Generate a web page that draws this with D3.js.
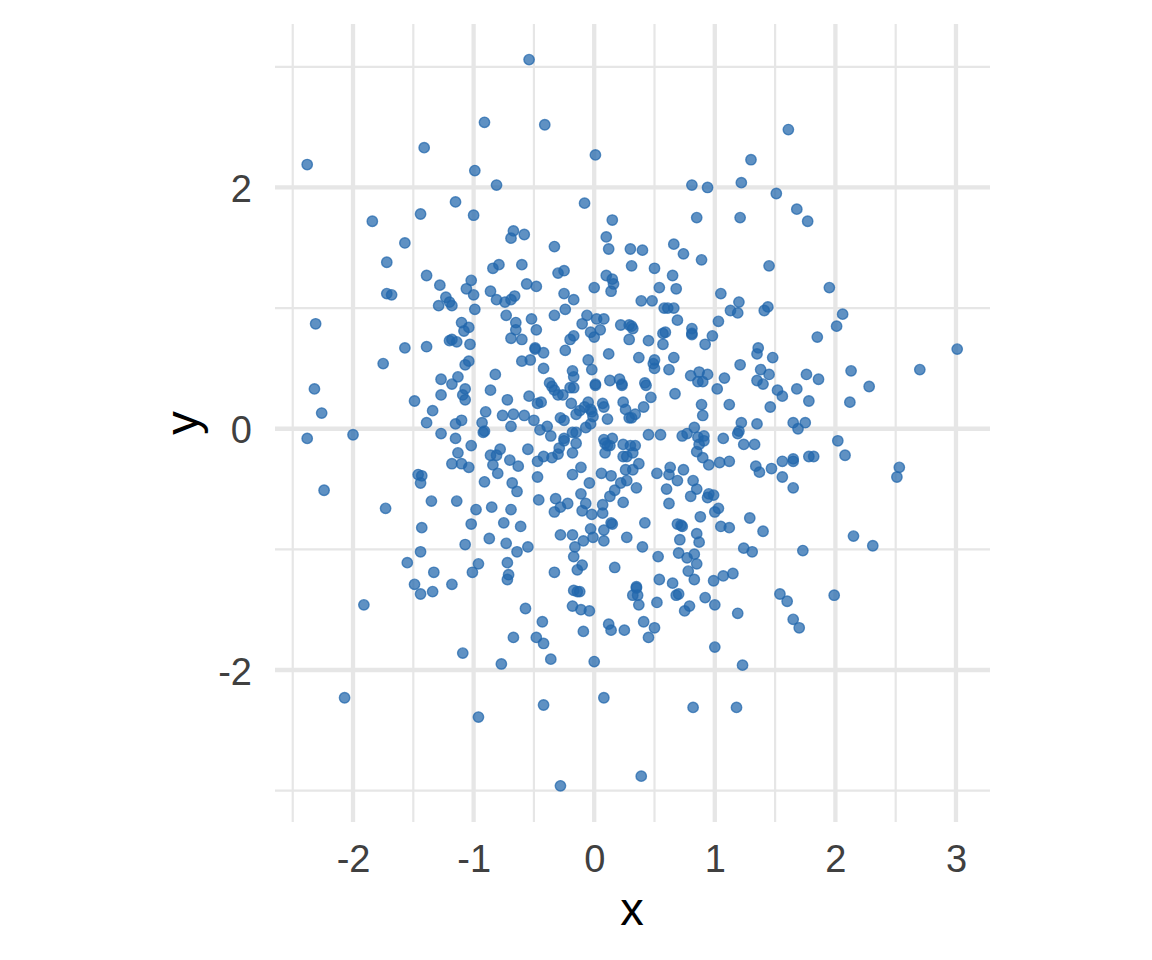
<!DOCTYPE html>
<html><head><meta charset="utf-8">
<script src="https://cdn.jsdelivr.net/npm/d3@7"></script>
<style>
html,body{margin:0;padding:0;background:#fff}
svg{display:block}
text{font-family:"Liberation Sans",Arial,sans-serif}
</style></head><body><svg id="c" width="1152" height="960"></svg>
<script>
const xMajorTicks=[-2,-1,0,1,2,3];
const xMinorTicks=[-2.5,-1.5,-0.5,0.5,1.5,2.5];
const yMajorTicks=[-2,0,2];
const yMinorTicks=[-3,-1,1,3];
const xTitle="x", yTitle="y";
const samples=[
[-0.54,3.06],[-0.91,2.54],[-0.41,2.52],[-1.41,2.33],[-2.38,2.19],[-0.99,2.14],[0.01,2.27],[-0.81,2.02],[-1.15,1.88],[-1.44,1.78],[-1.00,1.77],[-1.84,1.72],[-0.08,1.87],[0.15,1.73],[-1.57,1.54],[-0.67,1.64],[-0.58,1.61],[-0.69,1.58],[-0.33,1.51],[0.10,1.59],[0.12,1.49],[0.30,1.49],[-1.72,1.38],[-0.84,1.33],[-0.79,1.36],[-0.60,1.36],[-0.30,1.29],[-0.25,1.31],[0.10,1.27],[0.15,1.24],[0.16,1.20],[0.14,1.14],[0.31,1.35],[-1.39,1.27],[-1.28,1.19],[-1.02,1.23],[-1.06,1.16],[-1.00,1.11],[-0.86,1.14],[-0.56,1.20],[-0.48,1.18],[-0.25,1.12],[0.00,1.17],[-1.72,1.12],[-1.68,1.11],[-0.66,1.10],[-0.69,1.07],[-0.74,1.05],[-0.81,1.07],[-0.17,1.07],[-1.23,1.09],[-1.20,1.05],
[1.61,2.48],[1.30,2.23],[1.22,2.04],[0.81,2.02],[0.94,2.00],[1.51,1.95],[1.68,1.82],[1.77,1.72],[0.85,1.75],[1.21,1.75],[0.66,1.53],[0.74,1.45],[0.89,1.40],[0.40,1.48],[0.50,1.33],[1.45,1.35],[0.65,1.27],[0.54,1.17],[0.68,1.16],[1.05,1.12],[1.95,1.17],[1.20,1.05],[0.39,1.06],[0.48,1.06],
[-2.31,0.87],[-1.57,0.67],[-1.39,0.68],[-1.75,0.54],[-2.32,0.33],[-2.26,0.13],[-1.27,0.41],[-1.27,0.28],[-1.49,0.23],[-1.34,0.15],[-1.39,0.05],[-1.27,-0.04],[-2.38,-0.08],[-2.00,-0.05],[-1.29,1.02],[-1.20,0.73],[-1.18,0.37],
[-0.99,0.99],[-1.10,0.88],[-1.04,0.84],[-1.08,0.81],[-1.18,0.74],[-1.14,0.72],[-1.03,0.70],[-1.04,0.56],[-1.07,0.53],[-1.13,0.43],[-1.07,0.33],[-1.09,0.28],[-1.07,0.24],[-0.82,0.45],[-0.86,0.32],[-0.72,0.24],[-0.90,0.14],[-0.76,0.11],[-0.67,0.12],[-0.58,0.11],[-0.50,0.07],[-0.69,0.02],[-0.93,0.05],[-0.91,-0.02],[-0.92,-0.03],[-1.10,0.07],[-1.15,0.04],[-1.15,-0.08],[-0.73,0.94],[-0.65,0.88],[-0.65,0.82],[-0.69,0.75],[-0.60,0.74],[-0.52,0.91],[-0.48,0.82],[-0.49,0.67],[-0.49,0.66],[-0.42,0.63],[-0.60,0.56],[-0.53,0.57],[-0.42,0.50],[-0.54,0.27],[-0.44,0.22],[-0.47,0.21],[-0.37,0.38],[-0.35,0.35],[-0.33,0.32],[-0.30,0.28],[-0.26,0.28],[-0.19,0.21],[-0.20,0.34],[-0.17,0.34],[-0.18,0.48],[-0.17,0.43],[-0.33,0.94],[-0.24,0.99],[-0.06,0.94],[-0.10,0.87],[0.02,0.91],[0.08,0.91],[0.05,0.82],[-0.03,0.80],[0.00,0.76],[-0.17,0.77],[-0.20,0.74],[-0.24,0.65],[0.22,0.86],[0.29,0.86],[0.29,0.74],[0.12,0.62],[-0.05,0.57],[-0.02,0.49],[0.01,0.37],[0.01,0.36],[0.13,0.40],[0.21,0.41],[0.23,0.37],[0.23,0.36],[0.07,0.21],[0.08,0.18],[0.24,0.22],[0.26,0.16],[0.29,0.09],[0.11,0.08],[-0.05,0.22],[-0.12,0.15],[-0.15,0.12],[-0.08,0.18],[-0.03,0.16],[-0.02,0.14],[-0.01,0.10],[-0.03,0.04],[-0.07,0.01],[-0.28,0.09],[-0.25,0.07],[-0.39,0.02],[-0.45,-0.01],[-0.36,-0.06],[-0.25,-0.08],[-0.18,-0.03],[-0.15,-0.03],[0.08,-0.09],[0.15,-0.08],[-1.18,1.02],
[0.58,1.00],[0.61,1.00],[0.66,1.00],[0.69,0.90],[1.13,0.98],[1.19,0.96],[1.03,0.89],[1.44,1.01],[1.41,0.98],[0.31,0.85],[0.32,0.83],[0.45,0.73],[0.59,0.80],[0.57,0.79],[0.57,0.70],[0.81,0.83],[0.81,0.79],[0.81,0.78],[0.98,0.77],[0.92,0.70],[1.36,0.67],[1.35,0.62],[1.48,0.59],[0.37,0.59],[0.66,0.59],[0.50,0.57],[0.49,0.54],[0.50,0.50],[0.62,0.49],[1.21,0.53],[1.38,0.49],[1.45,0.45],[1.35,0.40],[1.40,0.37],[0.80,0.44],[0.87,0.47],[0.94,0.45],[0.86,0.39],[0.90,0.39],[1.08,0.42],[1.02,0.33],[0.42,0.38],[0.43,0.36],[0.67,0.29],[0.47,0.26],[1.52,0.32],[1.56,0.27],[1.68,0.33],[1.76,0.45],[1.78,0.23],[1.46,0.18],[0.89,0.20],[1.12,0.20],[0.90,0.11],[0.41,0.18],[0.34,0.12],[0.31,0.09],[1.22,0.05],[1.35,0.04],[1.20,-0.02],[1.19,-0.04],[1.65,0.05],[1.75,0.05],[1.69,0.00],[0.45,-0.05],[0.55,-0.05],[0.83,0.01],[0.77,-0.04],[0.73,-0.06],[0.86,-0.07],[0.91,-0.06],[1.07,-0.08],
[1.24,-0.13],[1.33,-0.13],[0.85,-0.19],[0.87,-0.13],[0.91,-0.10],[0.90,-0.24],[0.95,-0.30],[1.04,-0.28],[1.12,-0.27],[1.34,-0.31],[1.37,-0.36],[1.47,-0.33],[1.56,-0.27],[1.65,-0.27],[1.65,-0.25],[1.78,-0.23],[1.56,-0.40],[1.65,-0.49],[0.37,-0.29],[0.32,-0.34],[0.52,-0.37],[0.63,-0.32],[0.62,-0.38],[0.74,-0.34],[0.69,-0.43],[0.82,-0.43],[0.85,-0.50],[0.80,-0.56],[0.60,-0.50],[0.62,-0.62],[0.35,-0.49],[0.94,-0.57],[0.95,-0.54],[0.99,-0.55],[1.03,-0.66],[1.00,-0.69],[0.88,-0.73],[1.29,-0.74],[1.40,-0.85],[0.42,-0.78],[0.69,-0.79],[0.72,-0.80],[0.73,-0.81],[1.05,-0.81],[1.12,-0.82],[0.85,-0.87],[0.71,-0.92],[0.87,-0.94],[0.40,-0.98],[0.27,-0.90],[1.24,-0.99],[1.31,-1.02],[1.73,-1.01],[0.53,-1.06],[0.70,-1.03],[0.77,-1.07],[0.83,-1.04],[0.85,-1.12],[0.78,-1.18],[0.54,-1.25],[0.65,-1.28],[0.83,-1.25],[0.99,-1.26],[1.07,-1.22],[1.15,-1.20],
[1.54,-1.37],[1.60,-1.43],[1.99,-1.38],[1.65,-1.58],[1.70,-1.65],[0.35,-1.31],[0.35,-1.32],[0.36,-1.38],[0.32,-1.38],[0.37,-1.46],[0.52,-1.44],[0.68,-1.38],[0.70,-1.37],[0.92,-1.40],[1.00,-1.46],[0.79,-1.47],[0.75,-1.51],[1.19,-1.53],[0.41,-1.60],[0.50,-1.65],[0.45,-1.73],[1.00,-1.81],[1.23,-1.96],[0.82,-2.31],[1.18,-2.31],[0.39,-2.88],
[-1.91,-1.46],[-1.49,-1.29],[-1.44,-1.37],[-1.34,-1.35],[-1.18,-1.29],[-0.57,-1.49],[-0.43,-1.60],[-0.67,-1.73],[-0.48,-1.73],[-0.42,-1.78],[-0.36,-1.91],[-1.09,-1.86],[-0.77,-1.95],[0.00,-1.93],[-0.18,-1.47],[-0.11,-1.50],[-0.04,-1.51],[-0.17,-1.34],[-0.14,-1.35],[-0.12,-1.35],[0.12,-1.62],[0.14,-1.67],[0.25,-1.67],[-0.09,-1.68],[-2.07,-2.23],[0.08,-2.23],[-0.42,-2.29],[-0.96,-2.39],[-0.28,-2.96],[-0.72,-1.25],
[2.06,0.95],[2.01,0.85],[1.85,0.76],[3.01,0.66],[2.13,0.48],[2.70,0.49],[1.86,0.41],[2.28,0.35],[2.12,0.22],[2.02,-0.10],[2.08,-0.22],[1.82,-0.23],[2.53,-0.32],[2.51,-0.40],[2.15,-0.89],[2.31,-0.97],
[-1.46,-0.38],[-1.43,-0.39],[-1.44,-0.45],[-1.35,-0.60],[-2.24,-0.51],[-1.73,-0.66],[-1.43,-0.82],[-1.44,-1.02],[-1.55,-1.11],[-1.33,-1.19],
[-1.02,-0.14],[-1.13,-0.20],[-1.18,-0.29],[-1.10,-0.29],[-1.04,-0.32],[-0.86,-0.22],[-0.81,-0.22],[-0.78,-0.17],[-0.84,-0.30],[-0.80,-0.37],[-0.70,-0.26],[-0.63,-0.31],[-0.55,-0.17],[-0.91,-0.44],[-0.68,-0.45],[-0.64,-0.52],[-1.14,-0.60],[-0.85,-0.65],[-0.69,-0.67],[-0.98,-0.67],[-0.75,-0.78],[-1.02,-0.79],[-0.61,-0.81],[-0.87,-0.91],[-1.07,-0.96],[-0.73,-0.95],[-0.55,-0.98],[-0.64,-1.02],[-0.72,-1.11],[-0.96,-1.12],[-1.01,-1.19],[-0.71,-1.21],[-0.47,-0.27],[-0.42,-0.23],[-0.35,-0.24],[-0.30,-0.21],[-0.29,-0.16],[-0.25,-0.10],[-0.15,-0.12],[-0.18,-0.20],[-0.47,-0.40],[-0.46,-0.59],[-0.32,-0.58],[-0.28,-0.65],[-0.22,-0.62],[-0.33,-0.69],[-0.11,-0.32],[-0.18,-0.38],[-0.04,-0.45],[-0.11,-0.54],[-0.07,-0.62],[-0.10,-0.68],[-0.02,-0.71],[0.07,-0.63],[0.07,-0.70],[0.13,-0.56],[0.17,-0.51],[0.22,-0.45],[0.27,-0.43],[0.06,-0.37],[0.14,-0.39],[0.24,-0.61],[0.26,-0.34],[0.24,-0.23],[0.27,-0.23],[0.09,-0.20],[0.11,-0.14],[0.13,-0.14],[0.09,-0.12],[0.24,-0.13],[0.30,-0.14],[0.34,-0.14],[0.32,-0.20],[0.14,-0.78],[0.15,-0.79],[-0.03,-0.83],[0.08,-0.84],[-0.01,-0.90],[0.08,-0.93],[-0.09,-0.93],[-0.18,-0.88],[-0.28,-0.88],[-0.16,-0.98],[-0.17,-1.06],[-0.10,-1.13],[-0.14,-1.17],[-0.33,-1.19],[0.17,-1.15]
];
const W=1152,H=960;
const panel={left:275,right:990,top:24,bottom:822};
const x=d3.scaleLinear().domain([-2.647,3.282]).range([panel.left,panel.right]);
const y=d3.scaleLinear().domain([-3.26,3.355]).range([panel.bottom,panel.top]);
const svg=d3.select("#c");
const grid=svg.append("g").attr("stroke","#E6E6E6").attr("fill","none");
function vLines(t,w){grid.selectAll(null).data(t).join("line").attr("x1",d=>x(d)).attr("x2",d=>x(d)).attr("y1",panel.top).attr("y2",panel.bottom).attr("stroke-width",w);}
function hLines(t,w){grid.selectAll(null).data(t).join("line").attr("y1",d=>y(d)).attr("y2",d=>y(d)).attr("x1",panel.left).attr("x2",panel.right).attr("stroke-width",w);}
hLines(yMinorTicks,2.2);vLines(xMinorTicks,2.2);hLines(yMajorTicks,4.3);vLines(xMajorTicks,4.3);
const ax=svg.append("g").attr("transform",`translate(0,${panel.bottom})`)
 .call(d3.axisBottom(x).tickValues(xMajorTicks).tickSize(0).tickPadding(23).tickFormat(d3.format("d")));
const ay=svg.append("g").attr("transform",`translate(${panel.left},0)`)
 .call(d3.axisLeft(y).tickValues(yMajorTicks).tickSize(0).tickPadding(23).tickFormat(d3.format("d")));
[ax,ay].forEach(a=>{a.select(".domain").remove();
 a.selectAll("text").attr("font-size",38).attr("fill","#404040").style("font-family",'"Liberation Sans",Arial,sans-serif').text(d=>String(d));});
ay.selectAll("text").attr("dy","0.37em");
svg.append("text").attr("x",632).attr("y",925).attr("text-anchor","middle").attr("font-size",47).attr("fill","#000").text(xTitle);
svg.append("text").attr("transform","translate(198,423) rotate(-90)").attr("text-anchor","middle").attr("font-size",47).attr("fill","#000").text(yTitle);
svg.append("g").selectAll("circle").data(samples).join("circle")
 .attr("cx",d=>x(d[0])).attr("cy",d=>y(d[1])).attr("r",5.2)
 .attr("fill","#2166AC").attr("fill-opacity",0.72)
 .attr("stroke","#2166AC").attr("stroke-opacity",0.72).attr("stroke-width",1.4);
</script></body></html>
